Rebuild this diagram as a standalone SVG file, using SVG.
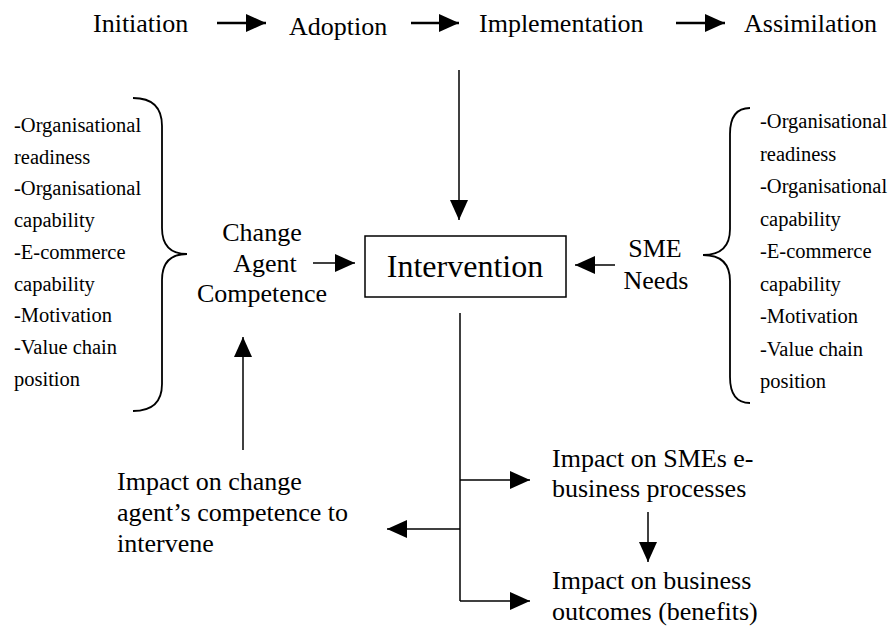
<svg xmlns="http://www.w3.org/2000/svg" width="896" height="627" viewBox="0 0 896 627" font-family="'Liberation Serif', 'DejaVu Serif', serif">
<style>
text{font-family:'Liberation Serif','DejaVu Serif',serif;fill:#000}
.t26{font-size:26px}
.t20{font-size:20.5px}
.ln{stroke:#000;stroke-width:1.5;fill:none}
.thk{stroke:#000;stroke-width:2.5;fill:none}
.br{stroke:#000;stroke-width:1.8;fill:none}
</style>
<defs>
<marker id="ah" markerUnits="userSpaceOnUse" markerWidth="20" markerHeight="18" refX="20" refY="9" orient="auto">
<path d="M0,0 L20,9 L0,18 z" fill="#000"/>
</marker>
</defs>
<rect width="896" height="627" fill="#fff"/>
<g id="stages">
<text class="t26" x="93" y="32">Initiation</text>
<text class="t26" x="289" y="35">Adoption</text>
<text class="t26" x="479" y="32">Implementation</text>
<text class="t26" x="744" y="32">Assimilation</text>
</g>
<g id="intervention">
<rect x="365" y="236" width="201" height="61" fill="#fff" stroke="#000" stroke-width="1.5"/>
<text x="465" y="277" font-size="32" text-anchor="middle">Intervention</text>
</g>
<g id="change-agent">
<text class="t26" x="262" y="241" text-anchor="middle">Change</text>
<text class="t26" x="265" y="272" text-anchor="middle">Agent</text>
<text class="t26" x="262" y="302" text-anchor="middle">Competence</text>
</g>
<g id="sme-needs">
<text class="t26" x="655" y="257" text-anchor="middle">SME</text>
<text class="t26" x="656" y="289" text-anchor="middle">Needs</text>
</g>
<g id="left-factors">
<path class="br" d="M133,98 Q162,98 162,126 L162,228 Q162,254 187,254 Q162,254 162,280 L162,384 Q162,411 133,411"/>
<text class="t20" x="14" y="132">-Organisational</text>
<text class="t20" x="14" y="163.7">readiness</text>
<text class="t20" x="14" y="195.4">-Organisational</text>
<text class="t20" x="14" y="227.1">capability</text>
<text class="t20" x="14" y="258.8">-E-commerce</text>
<text class="t20" x="14" y="290.5">capability</text>
<text class="t20" x="14" y="322.2">-Motivation</text>
<text class="t20" x="14" y="353.9">-Value chain</text>
<text class="t20" x="14" y="385.6">position</text>
</g>
<g id="right-factors">
<path class="br" d="M750,108 Q730,108 730,134 L730,229 Q730,255 703,255 Q730,255 730,281 L730,377 Q730,403 750,403"/>
<text class="t20" x="760" y="128">-Organisational</text>
<text class="t20" x="760" y="160.5">readiness</text>
<text class="t20" x="760" y="193">-Organisational</text>
<text class="t20" x="760" y="225.5">capability</text>
<text class="t20" x="760" y="258">-E-commerce</text>
<text class="t20" x="760" y="290.5">capability</text>
<text class="t20" x="760" y="323">-Motivation</text>
<text class="t20" x="760" y="355.5">-Value chain</text>
<text class="t20" x="760" y="388">position</text>
</g>
<g id="impact-change-agent">
<text class="t26" x="117" y="490">Impact on change</text>
<text class="t26" x="117" y="521">agent’s competence to</text>
<text class="t26" x="117" y="552">intervene</text>
</g>
<g id="impact-processes">
<text class="t26" x="552" y="467">Impact on SMEs e-</text>
<text class="t26" x="552" y="497">business processes</text>
</g>
<g id="impact-outcomes">
<text class="t26" x="552" y="589">Impact on business</text>
<text class="t26" x="552" y="620">outcomes (benefits)</text>
</g>
<g id="connectors">
<line class="thk" x1="217" y1="23" x2="266" y2="23" marker-end="url(#ah)"/>
<line class="thk" x1="411" y1="23" x2="459" y2="23" marker-end="url(#ah)"/>
<line class="thk" x1="676" y1="23" x2="725" y2="23" marker-end="url(#ah)"/>
<line class="ln" x1="459" y1="70" x2="459" y2="220" marker-end="url(#ah)"/>
<line class="ln" x1="313" y1="263" x2="355" y2="263" marker-end="url(#ah)"/>
<line class="ln" x1="615" y1="265" x2="575" y2="265" marker-end="url(#ah)"/>
<line class="ln" x1="243" y1="450" x2="243" y2="337" marker-end="url(#ah)"/>
<line class="ln" x1="460" y1="313" x2="460" y2="601"/>
<line class="ln" x1="460" y1="480" x2="530" y2="480" marker-end="url(#ah)"/>
<line class="ln" x1="460" y1="529" x2="387" y2="529" marker-end="url(#ah)"/>
<line class="ln" x1="460" y1="601" x2="530" y2="601" marker-end="url(#ah)"/>
<line class="ln" x1="648" y1="512" x2="648" y2="562" marker-end="url(#ah)"/>
</g>
</svg>
